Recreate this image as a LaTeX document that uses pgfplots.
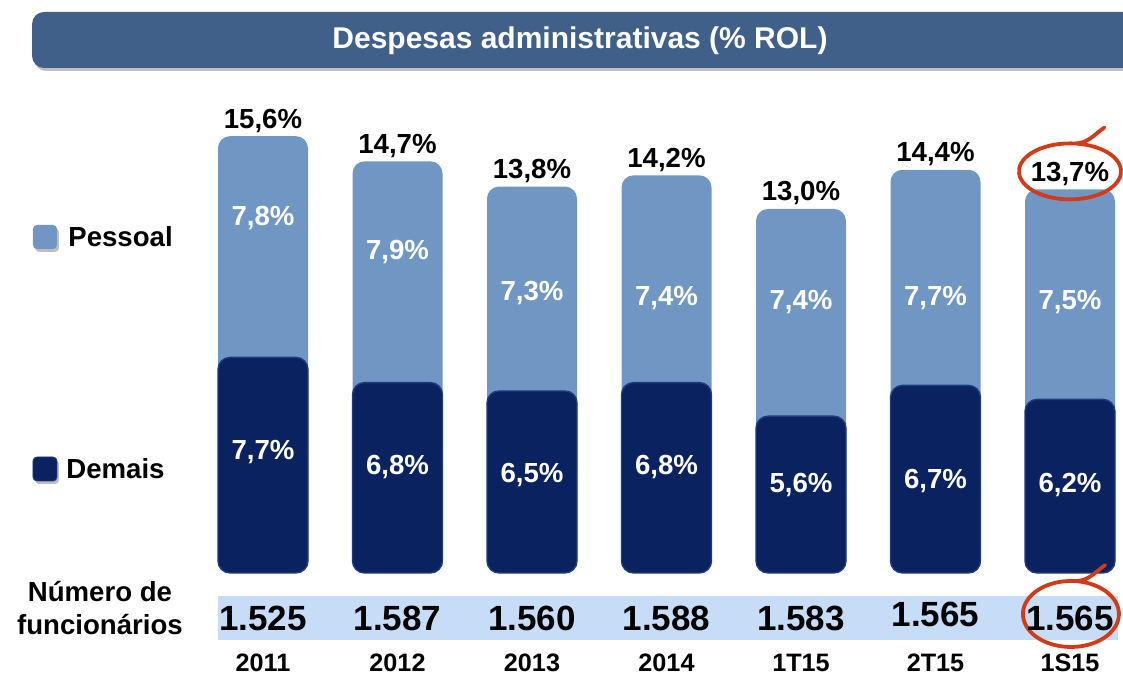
\documentclass[border=0pt]{standalone}
\usepackage{pgfplots}
\pgfplotsset{compat=1.18}
\usepackage{fontspec}
\setmainfont{Liberation Sans}
\definecolor{banner}{HTML}{40608A}
\definecolor{pess}{HTML}{7096C3}
\definecolor{dem}{HTML}{0A2360}
\definecolor{demedge}{HTML}{1E3C7E}
\definecolor{band}{HTML}{C6DCF7}
\definecolor{circ}{HTML}{D33A18}
\newcommand{\lblfont}{\fontsize{13.8}{16}\selectfont\bfseries}
\begin{document}
\begin{tikzpicture}
\begin{axis}[
  set layers,
  scale only axis, width=561.5pt, height=338pt,
  xmin=-1.9554, xmax=6.3941, ymin=-3.679, ymax=20.464,
  clip=false,
  axis line style={draw=none},
  ytick=\empty,
  xtick={0,...,6},
  xticklabels={2011,2012,2013,2014,1T15,2T15,1S15},
  major tick length=0pt,
  xticklabel style={font=\fontsize{12.6}{14}\selectfont\bfseries, anchor=center, inner sep=0pt, yshift=6.5pt},
]
\coordinate (BL) at (rel axis cs:0,0);
\coordinate (TR) at (rel axis cs:1,1);
% background band and banner
\begin{pgfonlayer}{axis background}
\fill[band] (axis cs:-0.335,-0.821) rectangle (axis cs:6.357,-2.393);
\fill[black!25, rounded corners=6pt] ([xshift=1pt,yshift=-1.5pt]axis cs:-1.717,20.036) rectangle ([xshift=1pt,yshift=-1.5pt]axis cs:6.6,18.036);
\fill[banner, rounded corners=6pt] (axis cs:-1.717,20.036) rectangle (axis cs:6.6,18.036);
\end{pgfonlayer}
\node[text=white, font=\fontsize{15}{18}\selectfont\bfseries] at (axis cs:2.357,19.0) {Despesas administrativas (\% ROL)};

% Pessoal (full height = total)
\addplot[ybar, bar width=45pt, bar shift=0pt, fill=pess, draw=none, rounded corners=6pt,
  nodes near coords=\pgfplotspointmeta\%, point meta=explicit symbolic,
  every node near coord/.append style={font=\lblfont, text=black, anchor=base, yshift=4pt}]
  table[x=x, y=tot, meta=lab] {
x tot lab
0 15.6 15,6
1 14.7 14,7
2 13.8 13,8
3 14.2 14,2
4 13.0 13,0
5 14.4 14,4
6 13.7 13,7
};
% Demais
\addplot[ybar, bar width=45pt, bar shift=0pt, fill=dem, draw=demedge, line width=0.7pt, rounded corners=6pt]
  coordinates {(0,7.7) (1,6.8) (2,6.5) (3,6.8) (4,5.6) (5,6.7) (6,6.2)};

% Pessoal labels
\addplot[draw=none, mark=none, nodes near coords=\pgfplotspointmeta\%, point meta=explicit symbolic,
  every node near coord/.append style={font=\lblfont, text=white, anchor=center}]
  table[x=x, y=y, meta=lab] {
x y lab
0 12.68 7,8
1 11.46 7,9
2 10.00 7,3
3 9.82 7,4
4 9.68 7,4
5 9.82 7,7
6 9.68 7,5
};
% Demais labels
\addplot[draw=none, mark=none, nodes near coords=\pgfplotspointmeta\%, point meta=explicit symbolic,
  every node near coord/.append style={font=\lblfont, text=white, anchor=center}]
  table[x=x, y=y, meta=lab] {
x y lab
0 4.32 7,7
1 3.79 6,8
2 3.50 6,5
3 3.79 6,8
4 3.14 5,6
5 3.29 6,7
6 3.14 6,2
};
% Numero de funcionarios
\addplot[draw=none, mark=none, nodes near coords=\pgfplotspointmeta, point meta=explicit symbolic,
  every node near coord/.append style={font=\fontsize{17.5}{20}\selectfont\bfseries, text=black, anchor=center}]
  table[x=x, y=y, meta=lab] {
x y lab
0 -1.607 1.525
1 -1.607 1.587
2 -1.607 1.560
3 -1.607 1.588
4 -1.607 1.583
5 -1.464 1.565
6 -1.607 1.565
};

% legend
\fill[black!25, rounded corners=2pt] ([xshift=1pt,yshift=-1.5pt]axis cs:-1.621,12.0) ++(-6pt,-6pt) rectangle ++(12pt,12pt);
\fill[pess, rounded corners=2pt] (axis cs:-1.621,12.0) ++(-6pt,-6pt) rectangle ++(12pt,12pt);
\node[anchor=west, font=\lblfont, inner sep=0pt] at (axis cs:-1.450,12.0) {Pessoal};
\fill[black!25, rounded corners=2pt] ([xshift=1pt,yshift=-1.5pt]axis cs:-1.621,3.714) ++(-6pt,-6pt) rectangle ++(12pt,12pt);
\fill[dem, draw=demedge, rounded corners=2pt] (axis cs:-1.621,3.714) ++(-6pt,-6pt) rectangle ++(12pt,12pt);
\node[anchor=west, font=\lblfont, inner sep=0pt] at (axis cs:-1.465,3.714) {Demais};
\node[align=center, font=\fontsize{13.8}{16.5}\selectfont\bfseries] at (axis cs:-1.212,-1.25) {Número de\\funcionários};

% red circles (clockwise stroke ending in an up-right tail)
\draw[circ, line width=1.9pt, line cap=round] ([shift={(150:25.5pt and 14pt)},yshift=9pt]axis cs:6,13.7)
  arc[start angle=150, end angle=-275, x radius=25.5pt, y radius=14pt] to[out=0,in=215] ++(15pt,8pt);
\draw[circ, line width=1.9pt, line cap=round] ([shift={(150:24pt and 16.5pt)}]axis cs:6.007,-1.464)
  arc[start angle=150, end angle=-275, x radius=24pt, y radius=16.5pt] to[out=0,in=215] ++(15pt,8pt);
\end{axis}
\pgfresetboundingbox
\path (BL) rectangle (TR);
\end{tikzpicture}
\end{document}
